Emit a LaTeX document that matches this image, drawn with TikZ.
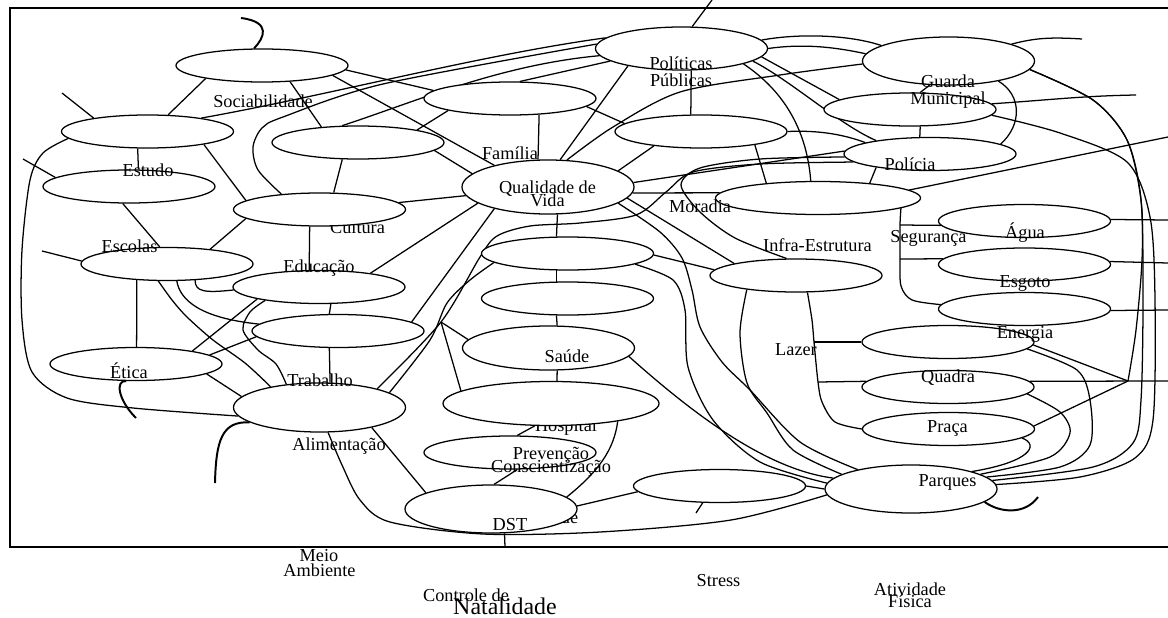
\documentclass[tikz,border=0pt]{standalone}
\usepackage{fontspec}
\setmainfont{Liberation Serif}
\usetikzlibrary{shapes.geometric,backgrounds}
\tikzset{
  oval/.style={draw,ellipse,fill=white,line width=0.9pt,inner sep=0pt,
    minimum width=4.3cm,minimum height=0.825cm},
  tall/.style={oval,minimum height=#1},
  lbl/.style={font=\fontsize{13}{13}\selectfont,inner sep=0pt,anchor=base},
  link/.style={line width=0.9pt},
  curl/.style={line width=1.4pt},
  frame/.style={line width=1.6pt}
}

\begin{document}
\begin{tikzpicture}[x=0.025cm,y=-0.025cm]
  \useasboundingbox (0,0) rectangle (1168,617);
  % Texts lying under the ovals
  \node[lbl] (tcul) at (357.5,233) {Cultura};
  \node[lbl] (thosp) at (566,431) {Hospital};
  \node[lbl] (tfrag) at (569.5,523) {de};
  % Ovals, left part
  \node[oval] (soc) at (262,65.5) {};
  \node[oval] (estA) at (147.5,131.5) {};
  \node[oval] (estB) at (129,186.5) {};
  \node[oval] (esc) at (167,264) {};
  \node[oval] (eti) at (136,364) {};
  \node[oval] (cultA) at (358,142.5) {};
  \node[oval] (cul) at (319.5,209.5) {};
  \node[oval] (edu) at (319,287) {};
  \node[oval] (eduB) at (338,331) {};
  \node[tall=1.225cm] (trab) at (319.5,407.5) {};
  % Ovals, middle part
  \node[oval] (fam) at (510,98.5) {};
  \node[tall=1.075cm] (pol) at (681.5,48.5) {};
  \node[oval] (polB) at (701,131.5) {};
  \node[tall=1.35cm] (qv) at (548,187) {};
  \node[oval] (sauA) at (567.5,253.5) {};
  \node[oval] (sauB) at (567.5,298.5) {};
  \node[tall=1.1cm] (sau) at (548.5,348) {};
  \node[tall=1.1cm,minimum width=5.4cm] (hosp) at (551,403.5) {};
  \node[oval] (prev) at (510,452.5) {};
  \node[tall=1.2cm] (dst) at (491,509) {};
  \node[oval] (stress) at (719.5,486) {};
  % Ovals, right part
  \node[tall=1.2cm] (gua) at (948.5,61) {};
  \node[oval] (mun) at (910,109.5) {};
  \node[oval] (poli) at (930,154) {};
  \node[oval,minimum width=5.125cm] (mor) at (818,198) {};
  \node[oval] (infra) at (796,275.5) {};
  \node[oval] (agua) at (1024.5,221) {};
  \node[oval] (esg) at (1024.5,264.5) {};
  \node[oval] (ener) at (1024.5,309) {};
  \node[oval] (laz) at (948,342) {};
  \node[oval] (quad) at (948,387) {};
  \node[oval] (praca) at (948.5,429) {};
  \node[tall=1.2cm] (parq) at (911,489) {};
  % Free ends and branch points
  \coordinate (f1) at (62,93);
  \coordinate (f3) at (23,159);
  \coordinate (f4) at (42,251);
  \coordinate (f5) at (136,418);
  \coordinate (f6) at (215,483);
  \coordinate (f7) at (696,513);
  \coordinate (f8) at (505,547);
  \coordinate (f9) at (1082,39);
  \coordinate (f10) at (1136,95);
  \coordinate (f11) at (1168,381);
  \coordinate (f12) at (1168,137);
  \coordinate (f13) at (1168,220);
  \coordinate (f14) at (1168,263);
  \coordinate (f15) at (1168,310);
  \coordinate (f16) at (1038,497);
  \coordinate (f17) at (241,18);
  \coordinate (f18) at (712,0);
  \coordinate (jsa) at (441,322);
  \coordinate (jq) at (1128,381);
  \coordinate (blz) at (814,342);
  \coordinate (bqd) at (818,382);
  \coordinate (wag) at (900,225);
  \coordinate (wsg) at (900,259);
  \begin{pgfonlayer}{background}
  % Frame
  \draw[frame] (10,8) rectangle (1200,547);
  % Links, left part
  \draw[link] (soc.193) -- (estA.39);
  \draw[link] (estA.166) -- (f1);
  \draw[link] (soc.330) -- (cultA.157);
  \draw[link] (soc.357) -- (fam.174);
  \draw[link] (soc.352) -- (qv.158);
  \draw[link] (cultA.12) -- (fam.191);
  \draw[link] (cultA.354) -- (qv.170);
  \draw[link] (cultA.227) -- (cul.50);
  \draw[link] (estA.347) -- (cul.173);
  \draw[link] (estA.240) -- (estB.61);
  \draw[link] (estB.173) -- (f3);
  \draw[link] (estB.250) -- (esc.113);
  \draw[link] (esc.178) -- (f4);
  \draw[link] (esc.208) -- (eti.88);
  \draw[link] (cul.187) -- (esc.19);
  \draw[link] (cul.240) -- (edu.120);
  \draw[link] (cul.5) -- (qv.186);
  \draw[link] (qv.193) -- (edu.15);
  \draw[link] (qv.202) -- (eduB.7);
  \draw[link] (edu.305) -- (eduB.117);
  \draw[link] (eduB.243) -- (trab.67);
  \draw[link] (eti.13) -- (edu.191);
  \draw[link] (eti.7) -- (eduB.184);
  \draw[link] (eti.352) -- (trab.172);
  \draw[link] (esc.330) .. controls (195,292) and (205,293) .. (edu.182);
  \draw[link] (esc.300) .. controls (180,300) and (200,318) .. (eduB.175);
  \draw[link] plot[smooth] coordinates {(esc.243) (172,300) (187,317) (213,340) (245,363) (trab.157)};
  \draw[link] plot[smooth] coordinates {(edu.194) (250,312) (243,330) (258,350) (276,364) (trab.145)};
  \draw[link] plot[smooth] coordinates {(estA.185) (43,153) (30,180) (22,250) (22,320) (32,372) (67,398) (133,408) (trab.186)};
  \draw[curl] (eti.240) .. controls (115,380) and (118,400) .. (f5);
  \draw[curl] (trab.192) .. controls (222,421) and (216,440) .. (f6);
  \draw[curl] (soc.115) .. controls (264,38) and (272,22) .. (f17);
  % Long links to Politicas
  \draw[link] (estA.14) .. controls (330,95) and (480,55) .. (pol.172);
  \draw[link] plot[smooth] coordinates {(cul.158) (258,170) (253,147) (262,128) (283,117) (383,84) (pol.177)};
  \draw[link] (cultA.133) .. controls (420,100) and (500,65) .. (pol.185);
  % Links, middle part
  \draw[link] (pol.64) -- (f18);
  \draw[link] (pol.198) -- (qv.66);
  \draw[link] (fam.60) -- (pol.190);
  \draw[link] (fam.331) -- (qv.110);
  \draw[link] (fam.354) -- (polB.174);
  \draw[link] (pol.294) -- (polB.121);
  \draw[link] (qv.13) -- (polB.197);
  \draw[link] (qv.3) -- (poli.178);
  \draw[link] (qv.356) -- (mor.177);
  \draw[link] (qv.352) -- (infra.169);
  \draw[link] (qv.289) -- (sauA.123);
  \draw[link] (sauA.237) -- (sauB.123);
  \draw[link] (sauB.237) -- (sau.69);
  \draw[link] (sau.291) -- (hosp.75);
  \draw[link] (hosp.234) -- (prev.67);
  \draw[link] (prev.293) -- (dst.83);
  \draw[link] (trab.339) -- (dst.166);
  \draw[link] (hosp.345) .. controls (614,450) and (598,472) .. (dst.9);
  \draw[link] (dst.2) -- (stress.184);
  \draw[link] (stress.225) -- (f7);
  \draw[link] (dst.299) -- (f8);
  \draw[link] (stress.0) -- (parq.180);
  \draw[link] (sauA.359) -- (infra.176);
  \draw[link] plot[smooth] coordinates {(gua.182) (780,75) (680,92) (613,127) (qv.55)};
  \draw[link] plot[smooth] coordinates {(poli.182) (760,159) (700,168) (681,185) (700,212) (735,238) (infra.119)};
  \draw[link] plot[smooth] coordinates {(poli.186) (760,164) (693,172) (666,192) (636,215) (580,223) (530,226) (497,236) (480,257) (jsa) (trab.18)};
  \draw[link] plot[smooth] coordinates {(sauA.187) (470,280) (447,303) (430,340) (trab.12)};
  \draw[link] (jsa) -- (sau.174);
  \draw[link] (jsa) -- (hosp.172);
  % Links down to Parques
  \draw[link] plot[smooth] coordinates {(trab.289) (342,465) (360,500) (390,522) (483,534) (600,532) (731,520) (parq.184)};
  \draw[link] plot[smooth] coordinates {(qv.347) (660,232) (682,258) (692,290) (700,327) (722,362) (750,390) (800,442) (parq.160)};
  \draw[link] plot[smooth] coordinates {(sauA.351) (673,280) (685,310) (688,367) (713,420) (760,462) (parq.176)};
  \draw[link] (sau.354) .. controls (700,420) and (770,470) .. (parq.172);
  \draw[link] plot[smooth] coordinates {(infra.196) (740,333) (747,383) (767,413) (793,450) (parq.168)};
  \draw[link] plot[smooth] coordinates {(infra.304) (812,320) (blz) (bqd) (822,402) (835,422) (praca.180)};
  \draw[link] (blz) -- (laz.180);
  \draw[link] (bqd) -- (quad.176);
  % Links, right part
  \draw[link] (polB.346) -- (mor.164);
  \draw[link] (polB.0) .. controls (820,130) and (845,135) .. (poli.170);
  \draw[link] (pol.346) .. controls (775,85) and (806,120) .. (mor.113);
  \draw[link] (pol.350) .. controls (790,80) and (840,125) .. (poli.166);
  \draw[link] (pol.354) -- (mun.172);
  \draw[link] (pol.6) .. controls (800,33) and (850,35) .. (gua.167);
  \draw[link] (pol.0) .. controls (800,44) and (830,46) .. (gua.175);
  \draw[link] (gua.15) .. controls (1035,38) and (1050,37) .. (f9);
  \draw[link] (gua.232) -- (mun.59);
  \draw[link] (mun.301) -- (poli.121);
  \draw[link] (gua.338) .. controls (1022,95) and (1022,125) .. (poli.8);
  \draw[link] (mun.4) .. controls (1050,100) and (1080,96) .. (f10);
  \draw[link] (poli.194) -- (mor.16);
  \draw[link] (mor.5) -- (f12);
  \draw[link] plot[smooth] coordinates {(mor.353) (wag) (wsg) (901,286) (912,300) (ener.177)};
  \draw[link] (wag) -- (agua.183);
  \draw[link] (wsg) -- (esg.176);
  \draw[link] (agua.1) -- (f13);
  \draw[link] (esg.2) -- (f14);
  \draw[link] (ener.359) -- (f15);
  \draw[link] plot[smooth] coordinates {(gua.354) (1093,100) (1127,140) (1141,200) (1142,260) (1136,330) (jq)};
  \draw[link] plot[smooth] coordinates {(gua.354) (1093,100) (1127,140) (1141,200) (1143,300) (1141,400) (1133,443) (1093,467) (parq.6)};
  \draw[link] plot[smooth] coordinates {(mun.356) (1060,133) (1127,162) (1150,217) (1155,300) (1153,420) (1135,458) (1080,477) (parq.3)};
  \draw[link] (jq) -- (praca.2);
  \draw[link] (laz.358) -- (jq);
  \draw[link] (quad.4) -- (f11);
  \draw[link] plot[smooth] coordinates {(laz.355) (1077,370) (1090,400) (1090,445) (1060,467) (parq.9)};
  \draw[link] plot[smooth] coordinates {(quad.355) (1060,412) (1070,433) (1050,457) (parq.12)};
  \draw[link] (praca.353) .. controls (1040,445) and (1030,462) .. (parq.16);
  \draw[curl] (parq.350) .. controls (1000,513) and (1025,515) .. (f16);
  \end{pgfonlayer}
  % Labels
  \node[lbl] at (263,108) {Sociabilidade};
  \node[lbl] at (148,177) {Estudo};
  \node[lbl] at (129.5,252) {Escolas};
  \node[lbl] at (129,378) {Ética};
  \node[lbl] at (510,160) {Família};
  \node[lbl] at (319,272) {Educação};
  \node[lbl] at (320,386) {Trabalho};
  \node[lbl] at (339,450) {Alimentação};
  \node[lbl] at (547.5,193) {Qualidade de};
  \node[lbl] at (547.5,206) {Vida};
  \node[lbl] at (681,70) {Políticas};
  \node[lbl] at (681,87) {Públicas};
  \node[lbl] at (948,88) {Guarda};
  \node[lbl] at (948,105) {Municipal};
  \node[lbl] at (910,171) {Polícia};
  \node[lbl] at (700,212) {Moradia};
  \node[lbl] at (817.5,251) {Infra-Estrutura};
  \node[lbl] at (928.5,242) {Segurança};
  \node[lbl] at (1025,238) {Água};
  \node[lbl] at (1025,287) {Esgoto};
  \node[lbl] at (1025,338) {Energia};
  \node[lbl] at (796,355) {Lazer};
  \node[lbl] at (948,382) {Quadra};
  \node[lbl] at (947.5,432) {Praça};
  \node[lbl] at (947.5,486) {Parques};
  \node[lbl] at (567,362) {Saúde};
  \node[lbl] at (551,459) {Prevenção};
  \node[lbl] at (551,472) {Conscientização};
  \node[lbl] at (510,530) {DST};
  \node[lbl] at (319,561) {Meio};
  \node[lbl] at (319.5,576) {Ambiente};
  \node[lbl] at (466,601) {Controle de};
  \node[lbl,font=\fontsize{17}{17}\selectfont] at (505,614) {Natalidade};
  \node[lbl] at (718.5,586) {Stress};
  \node[lbl] at (910,595) {Atividade};
  \node[lbl] at (910,607) {Física};
\end{tikzpicture}
\end{document}
